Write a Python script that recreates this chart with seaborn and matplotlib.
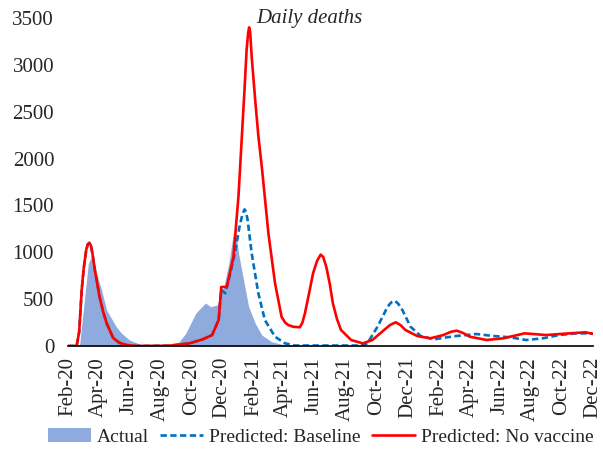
import pandas as pd
import numpy as np
import seaborn as sns
import matplotlib.pyplot as plt
import matplotlib.dates as mdates

# actual daily deaths
actual_dates = ["2020-02-21", "2020-02-24", "2020-03-05", "2020-03-12", "2020-03-17",
                "2020-03-28", "2020-04-07", "2020-04-17", "2020-04-26", "2020-05-06",
                "2020-05-16", "2020-06-01", "2020-06-21", "2020-07-10", "2020-08-09",
                "2020-09-01", "2020-09-20", "2020-10-10", "2020-10-29", "2020-11-08",
                "2020-11-21", "2020-12-04", "2020-12-14", "2020-12-23", "2020-12-27",
                "2021-01-02", "2021-01-12", "2021-01-22", "2021-02-04", "2021-02-17",
                "2021-03-08", "2021-03-27", "2021-04-30"]
actual_vals = [0, 20, 526, 880, 939,
               780, 600, 384, 300, 206,
               139, 64, 21, 5, 3,
               5, 135, 352, 459, 420,
               437, 633, 885, 1205, 1240,
               992, 704, 420, 242, 117,
               46, 20, 5]

# both predictions are the same before vaccination starts
shared_dates = ["2020-02-01", "2020-02-18", "2020-02-23", "2020-02-28", "2020-03-03",
                "2020-03-08", "2020-03-11", "2020-03-14", "2020-03-17", "2020-03-20",
                "2020-03-25", "2020-04-03", "2020-04-10", "2020-04-17", "2020-04-30",
                "2020-05-12", "2020-05-26", "2020-06-14", "2020-08-18", "2020-09-27",
                "2020-10-23", "2020-11-11", "2020-11-24"]
shared_vals = [0, 0, 150, 600, 830,
               1030, 1085, 1100, 1075, 990,
               810, 530, 370, 245, 85,
               35, 10, 0, 3, 28,
               70, 117, 280]

novax_dates = ["2020-11-29", "2020-12-10", "2020-12-23", "2021-01-02", "2021-01-09",
               "2021-01-14", "2021-01-18", "2021-01-21", "2021-01-23", "2021-01-25",
               "2021-01-28", "2021-02-04", "2021-02-10", "2021-02-17", "2021-03-02",
               "2021-03-15", "2021-03-28", "2021-04-04", "2021-04-10", "2021-04-20",
               "2021-05-03", "2021-05-08", "2021-05-13", "2021-05-21", "2021-05-29",
               "2021-06-06", "2021-06-13", "2021-06-18", "2021-06-24", "2021-07-01",
               "2021-07-07", "2021-07-15", "2021-07-23", "2021-08-12", "2021-09-04",
               "2021-09-23", "2021-10-16", "2021-10-28", "2021-11-08", "2021-11-17",
               "2021-11-27", "2021-12-20", "2022-01-15", "2022-02-10", "2022-02-24",
               "2022-03-08", "2022-03-20", "2022-04-03", "2022-05-06", "2022-06-08",
               "2022-07-20", "2022-08-31", "2022-10-16", "2022-11-17", "2022-12-01"]
novax_vals = [630, 630, 950, 1600, 2270,
              2750, 3160, 3340, 3400, 3350,
              3087, 2620, 2250, 1910, 1200,
              670, 310, 250, 224, 205,
              200, 250, 350, 560, 776,
              910, 975, 950, 846, 660,
              456, 290, 171, 64, 28,
              64, 171, 225, 253, 225,
              171, 107, 82, 117, 150,
              164, 140, 99, 64, 82,
              135, 117, 135, 146, 130]

base_dates = ["2020-11-29", "2020-12-07", "2020-12-17", "2020-12-27", "2021-01-04",
              "2021-01-10", "2021-01-14", "2021-01-17", "2021-01-20", "2021-01-28",
              "2021-02-10", "2021-02-23", "2021-03-15", "2021-04-04", "2021-04-23",
              "2021-08-31", "2021-09-13", "2021-10-03", "2021-10-23", "2021-10-30",
              "2021-11-06", "2021-11-13", "2021-11-21", "2021-12-07", "2021-12-27",
              "2022-01-22", "2022-02-17", "2022-03-08", "2022-04-16", "2022-05-19",
              "2022-06-21", "2022-07-23", "2022-08-25", "2022-09-26", "2022-10-29",
              "2022-12-01"]
base_vals = [600, 562, 778, 1024, 1273,
             1410, 1458, 1430, 1344, 989,
             565, 277, 99, 28, 5,
             5, 28, 206, 420, 465,
             483, 450, 384, 206, 107,
             71, 93, 107, 128, 107,
             93, 64, 82, 117, 135,
             135]

y_ticks = [0, 500, 1000, 1500, 2000, 2500, 3000, 3500]

actual = pd.DataFrame({"date": pd.to_datetime(actual_dates), "deaths": actual_vals})
baseline = pd.DataFrame({"date": pd.to_datetime(shared_dates + base_dates),
                         "deaths": shared_vals + base_vals})
novax = pd.DataFrame({"date": pd.to_datetime(shared_dates + novax_dates),
                      "deaths": shared_vals + novax_vals})

sns.set_style("white")
plt.rcParams["font.family"] = ["Liberation Serif", "DejaVu Serif"]
plt.rcParams["font.size"] = 15

fig = plt.figure(figsize=(6.03, 4.49), dpi=100)
ax = fig.add_axes([0.1128, 0.2294, 0.870, 0.7305])

ax.fill_between(actual["date"], actual["deaths"], color="#8FAADC", lw=0, label="Actual")
sns.lineplot(data=baseline, x="date", y="deaths", ax=ax, color="#0070C0", lw=1.9,
             linestyle=(0, (2.4, 1.3)), label="Predicted: Baseline")
sns.lineplot(data=novax, x="date", y="deaths", ax=ax, color="#FF0000", lw=1.9,
             label="Predicted: No vaccine")

ax.set_xlim(pd.Timestamp("2020-02-01"), pd.Timestamp("2022-12-01"))
ax.set_ylim(0, 3500)
ax.set_yticks(y_ticks)
ax.xaxis.set_major_locator(mdates.MonthLocator(bymonth=[2, 4, 6, 8, 10, 12]))
ax.xaxis.set_major_formatter(mdates.DateFormatter("%b-%y"))
ax.tick_params(axis="x", rotation=90, length=0, pad=8, labelsize=15)
ax.tick_params(axis="y", length=0, pad=10, labelsize=15)
ax.set_xlabel("")
ax.set_ylabel("")

for s in ["top", "right", "left"]:
    ax.spines[s].set_visible(False)
ax.spines["bottom"].set_color("black")
ax.spines["bottom"].set_linewidth(1.2)

ax.text(0.46, 1.0, "Daily deaths", transform=ax.transAxes, ha="center", va="center",
        fontstyle="italic", fontsize=15)

ax.get_legend().remove()
handles, labels = ax.get_legend_handles_labels()
fig.legend(handles, labels, loc="center", bbox_to_anchor=(0.532, 0.027), ncol=3,
           frameon=False, handlelength=2.2, handletextpad=0.3, columnspacing=0.6,
           fontsize=14, borderaxespad=0)

fig.savefig("out.png", dpi=100)
